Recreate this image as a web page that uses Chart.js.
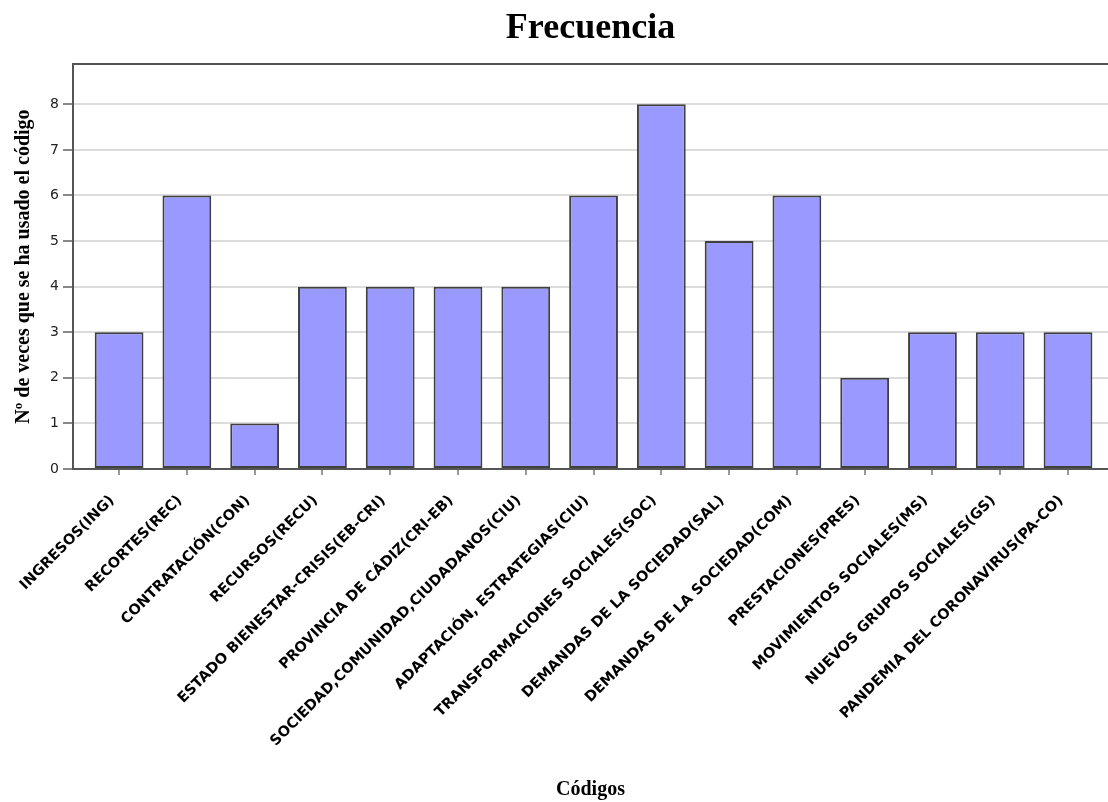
<!DOCTYPE html>
<html>
<head>
<meta charset="utf-8">
<title>Frecuencia</title>
<script src="https://cdn.jsdelivr.net/npm/chart.js@4/dist/chart.umd.min.js"></script>
<style>
	html, body { margin: 0; padding: 0; background: #fff; }
	#wrap { width: 1108px; height: 802px; position: relative; }
</style>
</head>
<body>
<div id="wrap"><canvas id="freqChart"></canvas></div>
<script>
// Códigos and how many times each one was used
const codigos = [
	"INGRESOS(ING)",
	"RECORTES(REC)",
	"CONTRATACIÓN(CON)",
	"RECURSOS(RECU)",
	"ESTADO BIENESTAR-CRISIS(EB-CRI)",
	"PROVINCIA DE CÁDIZ(CRI-EB)",
	"SOCIEDAD,COMUNIDAD,CIUDADANOS(CIU)",
	"ADAPTACIÓN, ESTRATEGIAS(CIU)",
	"TRANSFORMACIONES SOCIALES(SOC)",
	"DEMANDAS DE LA SOCIEDAD(SAL)",
	"DEMANDAS DE LA SOCIEDAD(COM)",
	"PRESTACIONES(PRES)",
	"MOVIMIENTOS SOCIALES(MS)",
	"NUEVOS GRUPOS SOCIALES(GS)",
	"PANDEMIA DEL CORONAVIRUS(PA-CO)",
];
const frecuencias = [3, 6, 1, 4, 4, 4, 4, 6, 8, 5, 6, 2, 3, 3, 3];
const yTicks = [0, 1, 2, 3, 4, 5, 6, 7, 8];

document.addEventListener("DOMContentLoaded", function () {
	const canvas = document.getElementById("freqChart");

	if (typeof Chart === "undefined") {
		console.error("Chart.js is not loaded.");
		return;
	}

	// bars sit on integer positions of a linear x axis so the
	// first category can start a bit away from the left frame
	const points = frecuencias.map((v, i) => ({ x: i, y: v }));

	new Chart(canvas, {
		type: "bar",
		data: {
			datasets: [
				{
					label: "Frecuencia",
					data: points,
					backgroundColor: "#9999ff",
					borderColor: "#404040",
					borderWidth: 2,
					borderSkipped: false,
					categoryPercentage: 1,
					barPercentage: 0.72,
				},
			],
		},
		options: {
			responsive: true,
			maintainAspectRatio: false,
			animation: false,
			layout: { padding: 0 },
			scales: {
				x: {
					type: "linear",
					position: "bottom",
					offset: false,
					min: -0.68,
					max: 14.59,
					afterBuildTicks: (s) => {
						s.ticks = codigos.map((c, i) => ({ value: i }));
					},
					afterFit: (s) => {
						s.height = 333;
					},
					ticks: {
						autoSkip: false,
						minRotation: 45,
						maxRotation: 45,
						color: "#000",
						padding: 17,
						labelOffset: -7,
						font: { family: "DejaVu Sans", size: 14.5, weight: "bold" },
						callback: (v) => codigos[v],
					},
					grid: {
						offset: false,
						drawOnChartArea: false,
						tickLength: 6,
						tickColor: "#999",
						lineWidth: 2,
					},
					border: { color: "#555", width: 2 },
					title: {
						display: true,
						text: "Códigos",
						color: "#000",
						font: { family: "Liberation Serif", size: 20, weight: "bold" },
						padding: { top: 4, bottom: 0 },
					},
				},
				x2: {
					type: "linear",
					axis: "x",
					position: "top",
					min: 0,
					max: 1,
					ticks: { display: false },
					grid: { display: false },
					border: { color: "#555", width: 2 },
					afterFit: (s) => {
						s.height = 0;
					},
				},
				y: {
					min: 0,
					max: 8.88,
					afterBuildTicks: (s) => {
						s.ticks = yTicks.map((v) => ({ value: v }));
					},
					afterFit: (s) => {
						s.width = 73;
					},
					ticks: {
						color: "#222",
						padding: 4,
						font: { family: "DejaVu Sans", size: 14 },
					},
					grid: {
						color: "#dcdcdc",
						lineWidth: 2,
						tickLength: 10,
						tickColor: "#888",
					},
					border: { color: "#555", width: 2 },
					title: {
						display: true,
						text: "Nº de veces que se ha usado el código",
						color: "#000",
						font: { family: "Liberation Serif", size: 20, weight: "bold" },
						padding: { top: 12, bottom: 4 },
					},
				},
			},
			plugins: {
				legend: { display: false },
				tooltip: { enabled: false },
				title: {
					display: true,
					text: "Frecuencia",
					fullSize: false,
					color: "#000",
					font: { family: "Liberation Serif", size: 36, weight: "bold" },
					padding: { top: 7, bottom: 14 },
				},
			},
		},
	});
});
</script>
</body>
</html>
